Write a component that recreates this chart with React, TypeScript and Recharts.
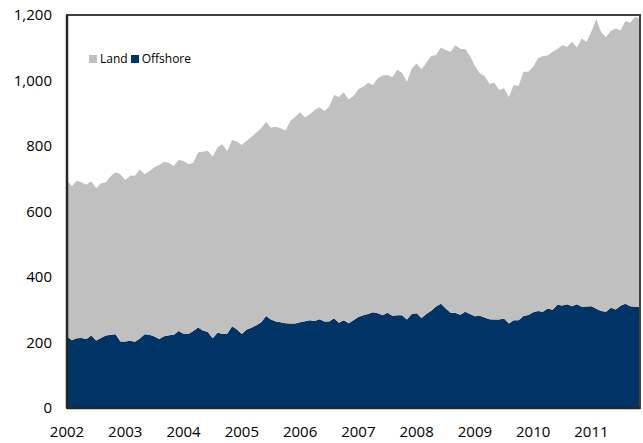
import { AreaChart, Area, XAxis, YAxis, ReferenceArea } from "recharts";

// monthly rig counts, Jan 2002 .. Nov 2011
const YEARS = ["2002", "2003", "2004", "2005", "2006", "2007", "2008", "2009", "2010", "2011"];
const YEAR_TICKS = [0, 12, 24, 36, 48, 60, 72, 84, 96, 108];
const Y_TICKS = [0, 200, 400, 600, 800, 1000, 1200];

const offshore = [
  218, 207, 213, 214, 211, 221, 206, 214, 221, 224, 225, 203,
  203, 205, 202, 212, 225, 224, 218, 211, 219, 222, 224, 235,
  227, 226, 235, 246, 237, 232, 213, 230, 227, 227, 250, 240,
  226, 240, 245, 253, 262, 281, 270, 264, 262, 259, 258, 258,
  262, 265, 268, 266, 271, 264, 264, 274, 260, 268, 259, 268,
  278, 283, 287, 292, 289, 283, 291, 282, 283, 283, 270, 287,
  289, 275, 287, 297, 310, 318, 304, 291, 290, 285, 294, 287,
  280, 282, 276, 271, 270, 270, 273, 258, 268, 268, 281, 284,
  292, 296, 294, 304, 300, 315, 313, 317, 311, 317, 309, 310,
  311, 303, 296, 294, 306, 301, 312, 318, 311, 309, 308,
];

const land = [
  477, 471, 481, 475, 471, 471, 465, 472, 468, 484, 495, 511,
  493, 504, 507, 517, 489, 500, 517, 531, 533, 527, 515, 522,
  527, 518, 514, 534, 546, 553, 555, 566, 578, 558, 568, 573,
  577, 576, 583, 588, 592, 593, 586, 595, 592, 588, 618, 631,
  641, 622, 629, 644, 647, 643, 656, 682, 690, 696, 683, 685,
  695, 698, 706, 694, 718, 732, 726, 728, 749, 741, 726, 750,
  763, 759, 767, 778, 768, 783, 789, 797, 818, 811, 802, 788,
  765, 740, 738, 719, 723, 701, 703, 692, 718, 715, 746, 743,
  750, 772, 781, 772, 788, 781, 795, 786, 807, 784, 819, 808,
  839, 885, 851, 838, 846, 858, 841, 864, 865, 886, 880,
];

const chartData = offshore.map((v, i) => ({ t: i, offshore: v, land: land[i] }));

const FONT = "'Open Sans', 'Liberation Sans', sans-serif";
const LAND_COLOR = "#c0c0c0";
const OFFSHORE_COLOR = "#003366";

const legendItems = [
  { label: "Land", color: LAND_COLOR },
  { label: "Offshore", color: OFFSHORE_COLOR },
];

export default function App() {
  return (
    <div style={{ position: "absolute", left: 0, top: 0, background: "#fff" }}>
      <AreaChart
        width={643}
        height={443}
        data={chartData}
        margin={{ top: 15, right: 3, left: 0, bottom: 0 }}
      >
        <XAxis
          dataKey="t"
          type="number"
          domain={[0, 118]}
          ticks={YEAR_TICKS}
          tickFormatter={(v: number) => YEARS[v / 12]}
          tickLine={false}
          tickSize={0}
          tickMargin={18}
          height={35}
          axisLine={{ stroke: "#262626", strokeWidth: 2.5 }}
          tick={{ fontSize: 15, fill: "#000", fontFamily: FONT }}
        />
        <YAxis
          domain={[0, 1200]}
          ticks={Y_TICKS}
          tickFormatter={(v: number) => v.toLocaleString("en-US")}
          tickLine={false}
          tickSize={0}
          tickMargin={15}
          width={67}
          axisLine={{ stroke: "#262626", strokeWidth: 2.5 }}
          tick={{ fontSize: 15, fill: "#000", fontFamily: FONT }}
        />
        <Area
          type="linear"
          dataKey="offshore"
          name="Offshore"
          stackId="rigs"
          stroke="none"
          fill={OFFSHORE_COLOR}
          fillOpacity={1}
          isAnimationActive={false}
        />
        <Area
          type="linear"
          dataKey="land"
          name="Land"
          stackId="rigs"
          stroke="none"
          fill={LAND_COLOR}
          fillOpacity={1}
          isAnimationActive={false}
        />
        <ReferenceArea
          x1={0}
          x2={118}
          y1={0}
          y2={1200}
          fill="none"
          stroke="#404040"
          strokeWidth={2}
          ifOverflow="visible"
        />
      </AreaChart>
      <div
        style={{
          position: "absolute",
          left: 89,
          top: 50,
          display: "flex",
          alignItems: "center",
          fontFamily: FONT,
          fontSize: 12,
          color: "#000",
        }}
      >
        {legendItems.map((it) => (
          <span key={it.label} style={{ display: "flex", alignItems: "center", marginRight: 3 }}>
            <span style={{ width: 8, height: 8, background: it.color, marginRight: 3, display: "inline-block" }} />
            {it.label}
          </span>
        ))}
      </div>
    </div>
  );
}
